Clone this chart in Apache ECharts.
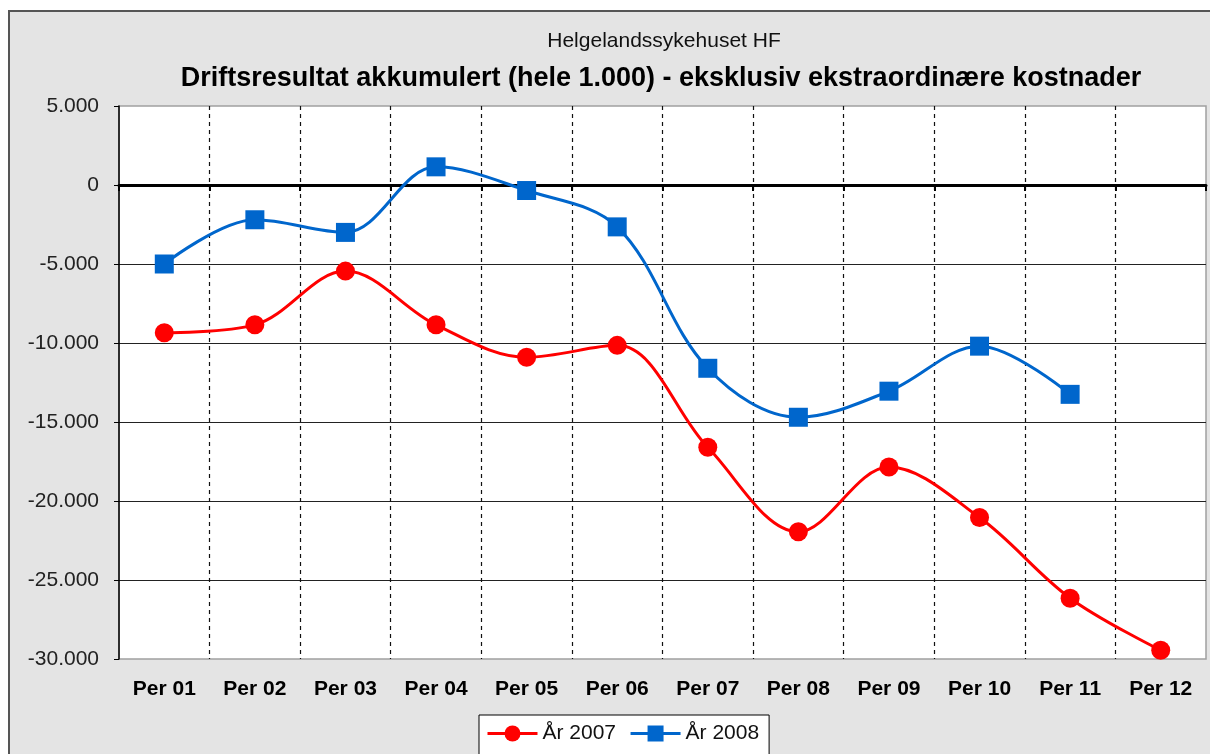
<!DOCTYPE html>
<html>
<head>
<meta charset="utf-8">
<script src="https://cdn.jsdelivr.net/npm/echarts@6/dist/echarts.min.js"></script>
<style>
  html, body { margin: 0; padding: 0; background: #fff; overflow: hidden; }
  #frame { position: absolute; left: 8px; top: 10px; width: 1230px; height: 770px; background: #e4e4e4; border: 2px solid #555; }
  #chart { position: absolute; left: 0; top: 0; width: 1210px; height: 754px; }
</style>
</head>
<body>
<div id="frame"></div>
<div id="chart"></div>
<script>
const categories = ['Per 01','Per 02','Per 03','Per 04','Per 05','Per 06','Per 07','Per 08','Per 09','Per 10','Per 11','Per 12'];
const year2007 = [-9350, -8850, -5450, -8850, -10900, -10150, -16600, -21950, -17850, -21050, -26150, -29450];
const year2008 = [-5000, -2200, -3000, 1150, -350, -2650, -11600, -14700, -13050, -10200, -13250, null];
const seriesNames = ['År 2007', 'År 2008'];
const subtitleText = 'Helgelandssykehuset HF';
const titleText = 'Driftsresultat akkumulert (hele 1.000) - eksklusiv ekstraordinære kostnader';

const FONT = '"Liberation Sans", Arial, sans-serif';
function fmt(v) {
  const s = Math.abs(v).toString().replace(/\B(?=(\d{3})+(?!\d))/g, '.');
  return (v < 0 ? '-' : '') + s;
}

const chart = echarts.init(document.getElementById('chart'), null, { renderer: 'canvas' });
chart.setOption({
  backgroundColor: 'transparent',
  animation: false,
  graphic: [
    { type: 'text', x: 664, y: 41, style: { text: subtitleText, font: '21px ' + FONT, fill: '#111', align: 'center', verticalAlign: 'middle', textAlign: 'center', textVerticalAlign: 'middle' } },
    { type: 'text', x: 661, y: 79, style: { text: titleText, font: 'bold 27px ' + FONT, fill: '#000', align: 'center', verticalAlign: 'middle', textAlign: 'center', textVerticalAlign: 'middle' } }
  ],
  grid: {
    left: 119, top: 106, width: 1087, height: 553,
    show: true, backgroundColor: '#fff', borderColor: '#a0a0a0', borderWidth: 1.5
  },
  legend: {
    left: 479, top: 715,
    data: seriesNames,
    backgroundColor: '#fff', borderColor: '#000', borderWidth: 1,
    padding: [8, 10, 12, 7],
    itemWidth: 50, itemHeight: 20, itemGap: 13,
    lineStyle: { width: 3 },
    textStyle: { fontSize: 21, color: '#111', fontFamily: FONT }
  },
  xAxis: [
    {
      type: 'category', data: categories, boundaryGap: true,
      axisLine: { show: false, onZero: false },
      axisTick: { show: false },
      axisLabel: { fontSize: 21, fontWeight: 'bold', color: '#000', fontFamily: FONT, margin: 20, interval: 0 },
      splitLine: { show: true, interval: 0, showMinLine: false, showMaxLine: false, lineStyle: { color: '#111', width: 1.2, type: [4, 4] } }
    },
    {
      type: 'category', data: categories, boundaryGap: true, position: 'bottom',
      axisLine: { show: true, onZero: true, lineStyle: { color: '#000', width: 3 } },
      axisTick: { show: true, inside: false, length: 6, interval: 0, lineStyle: { color: '#000', width: 2 } },
      axisLabel: { show: false },
      splitLine: { show: false }
    }
  ],
  yAxis: {
    type: 'value', min: -30000, max: 5000, interval: 5000,
    axisLine: { show: true, lineStyle: { color: '#000', width: 1.5 } },
    axisTick: { show: true, length: 5, lineStyle: { color: '#000' } },
    axisLabel: { fontSize: 21, color: '#222', fontFamily: FONT, margin: 20, formatter: fmt },
    splitLine: { show: true, lineStyle: { color: ['rgba(0,0,0,0)', '#222', '#222', '#222', '#222', '#222', '#222', 'rgba(0,0,0,0)'], width: 1 } }
  },
  series: [
    {
      name: seriesNames[0], type: 'line', xAxisIndex: 0, data: year2007,
      smooth: 0.35, symbol: 'circle', symbolSize: 19,
      lineStyle: { color: '#ff0000', width: 3 }, itemStyle: { color: '#ff0000' }, z: 3
    },
    {
      name: seriesNames[1], type: 'line', xAxisIndex: 0, data: year2008,
      smooth: 0.35, symbol: 'rect', symbolSize: 19,
      lineStyle: { color: '#0066cc', width: 3 }, itemStyle: { color: '#0066cc' }, z: 4
    }
  ]
});
</script>
</body>
</html>
